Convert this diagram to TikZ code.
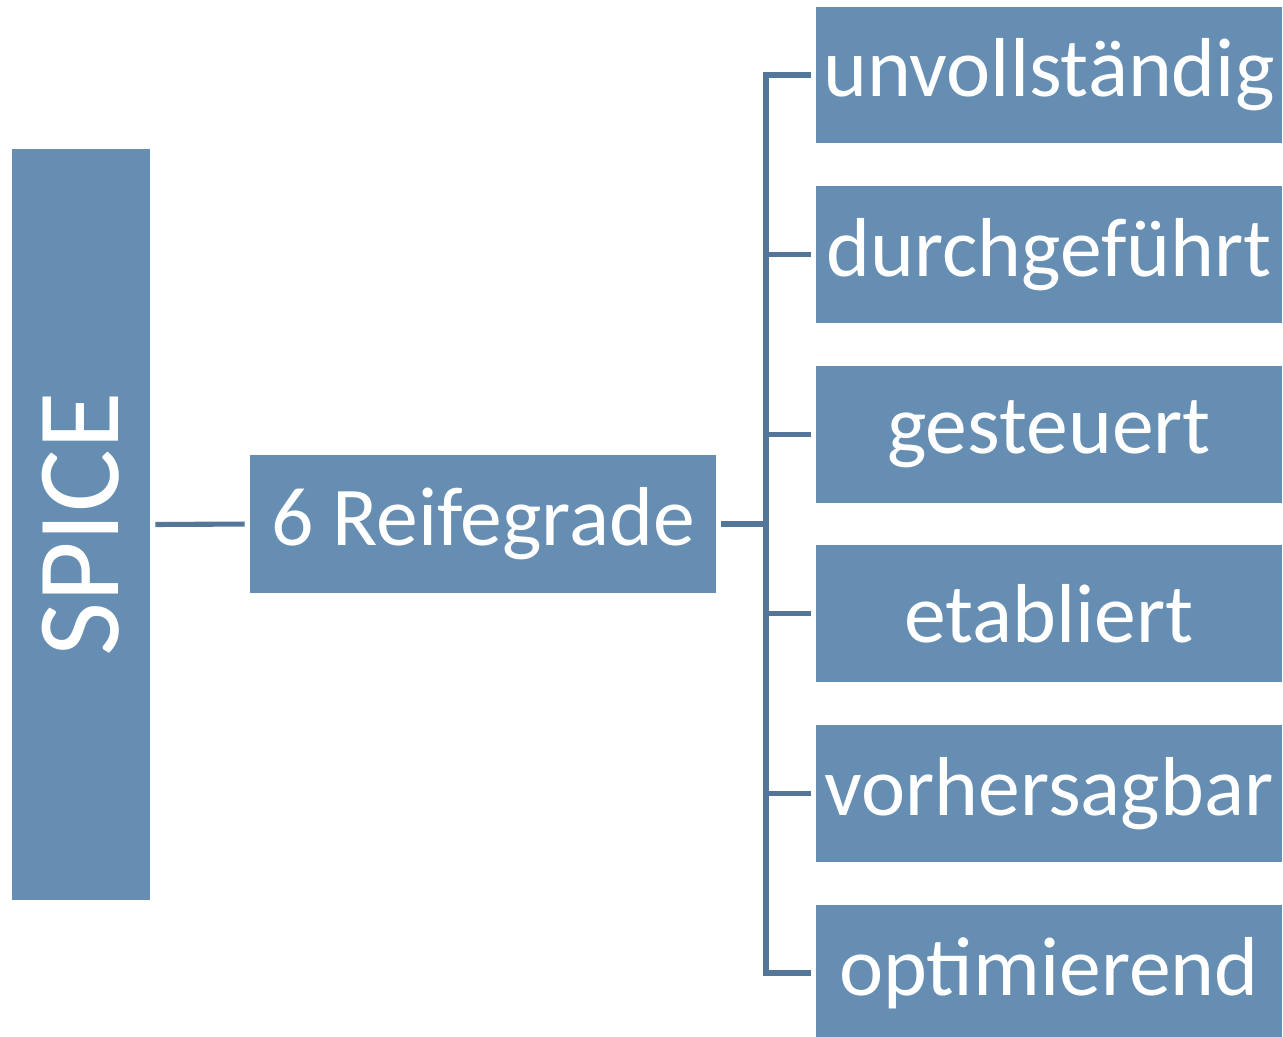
\documentclass[tikz,border=0pt]{standalone}
\usepackage{fontspec}
\setmainfont{Carlito}
\usepackage{tikz}
\usetikzlibrary{positioning}
\definecolor{boxblue}{RGB}{102,141,178}
\definecolor{linkblue}{RGB}{84,118,152}
\tikzset{levelbox/.style={fill=boxblue,text=white,inner sep=0pt,minimum width=9.32cm,minimum height=2.74cm,font=\fontsize{47.6}{57}\selectfont},
  link/.style={draw=linkblue,line width=2.9pt}}

\begin{document}
\begin{tikzpicture}[x=0.02cm,y=-0.02cm]
    \useasboundingbox (0,0) rectangle (1283,1036);
    \node[fill=boxblue,text=white,rotate=90,inner sep=0pt,minimum width=15.02cm,minimum height=2.76cm,font=\fontsize{67}{80}\selectfont] (spice) at (81,524.5) {SPICE};
    \node[levelbox,minimum height=2.76cm] (reife) at (483,524) {6 Reifegrade};
    \foreach \idx/\name in {1/unvollständig,2/durchgeführt,3/gesteuert,4/etabliert,5/vorhersagbar,6/optimierend} {
      \node[levelbox] (lvl\idx) at (1049,{75+179.6*(\idx-1)}) {\name};
    }
    \coordinate (bus) at (766,524);

    \draw[link,shorten <=0.1cm,shorten >=0.1cm] (spice.south) -- (reife.west);
    \draw[link,shorten <=0.1cm] (reife.east) -- (bus);
    \draw[link] ([xshift=-0.1cm]lvl1.west) -| (bus) |- ([xshift=-0.1cm]lvl6.west);
    \foreach \idx in {2,3,4,5} {
      \draw[link] (bus |- lvl\idx.west) -- ([xshift=-0.1cm]lvl\idx.west);
    }
\end{tikzpicture}
\end{document}
